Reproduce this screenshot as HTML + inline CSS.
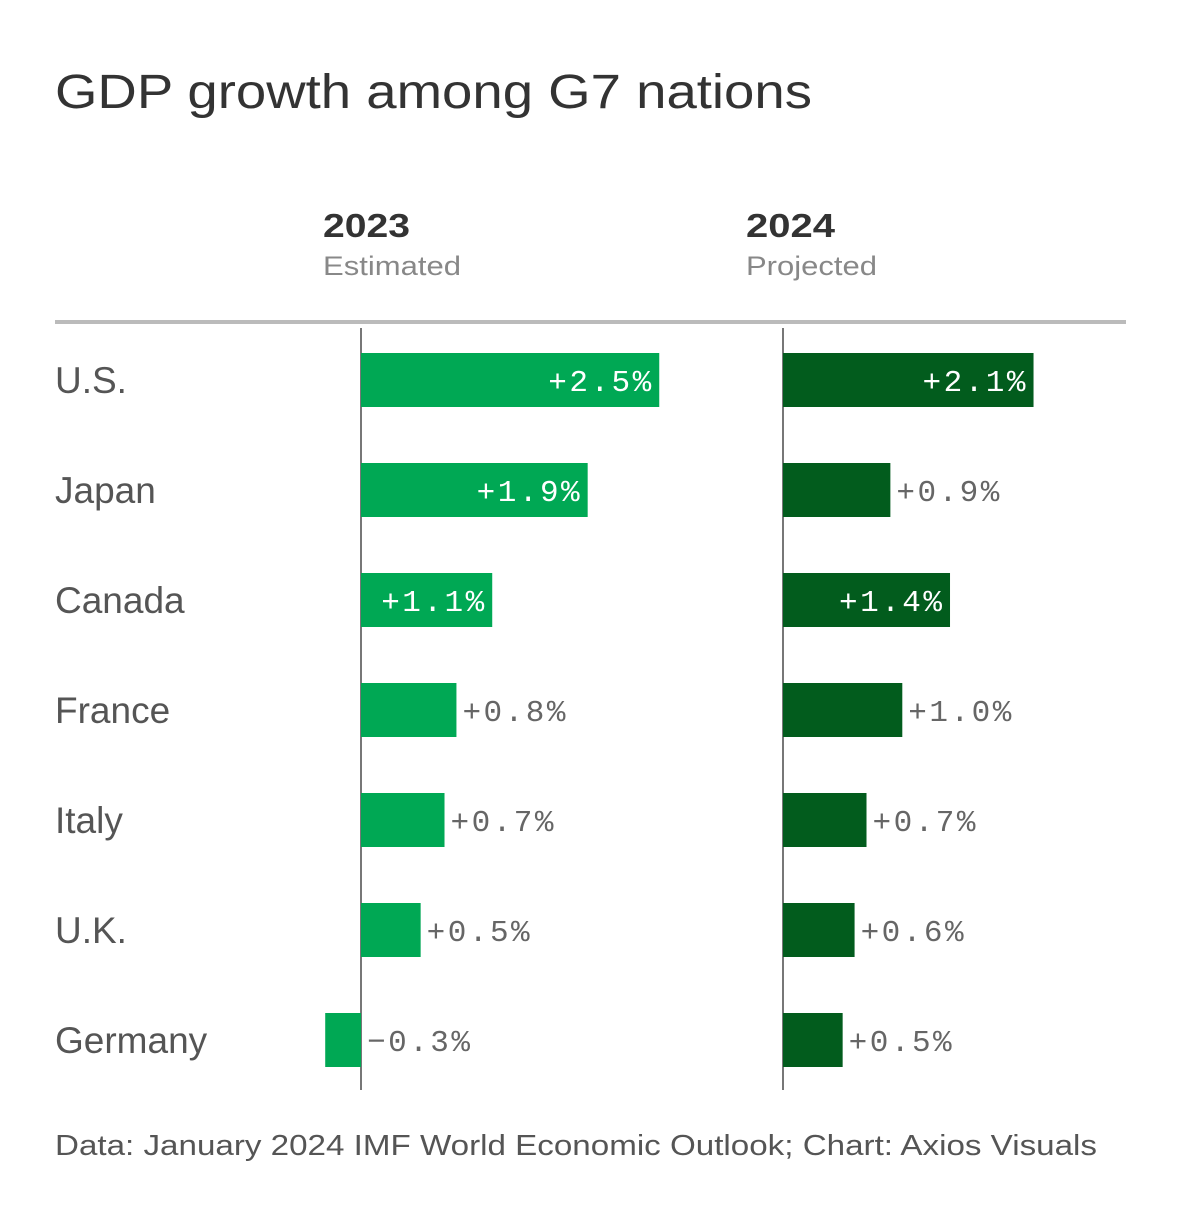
<!DOCTYPE html>
<html><head><meta charset="utf-8"><style>
body{margin:0;background:#fff;width:1180px;height:1200px;overflow:hidden;font-family:"Liberation Sans",sans-serif}
</style></head><body>
<svg id="chart" width="1180" height="1200" xmlns="http://www.w3.org/2000/svg">
<text x="55" y="108" font-size="48" fill="#333" textLength="757" lengthAdjust="spacingAndGlyphs">GDP growth among G7 nations</text>
<text x="323" y="237" font-size="33" font-weight="bold" fill="#333" textLength="87" lengthAdjust="spacingAndGlyphs">2023</text>
<text x="323" y="275" font-size="27" fill="#888" textLength="138" lengthAdjust="spacingAndGlyphs">Estimated</text>
<text x="746" y="237" font-size="33" font-weight="bold" fill="#333" textLength="89" lengthAdjust="spacingAndGlyphs">2024</text>
<text x="746" y="275" font-size="27" fill="#888" textLength="131" lengthAdjust="spacingAndGlyphs">Projected</text>
<rect x="55" y="320" width="1071" height="4" fill="#bbb"/>
<rect x="360" y="328" width="2" height="762" fill="#777"/>
<rect x="782" y="328" width="2" height="762" fill="#777"/>
<g id="bars"></g>
<text x="55" y="1155" font-size="29" fill="#555" textLength="1042" lengthAdjust="spacingAndGlyphs">Data: January 2024 IMF World Economic Outlook; Chart: Axios Visuals</text>
</svg>
<script>
const countries=["U.S.","Japan","Canada","France","Italy","U.K.","Germany"];
const values2023=[2.5,1.9,1.1,0.8,0.7,0.5,-0.3];
const values2024=[2.1,0.9,1.4,1.0,0.7,0.6,0.5];
const NS="http://www.w3.org/2000/svg";
const g=document.getElementById('bars');
const pxPerPct=119.3;
function yRow(i){return 353+i*110;}
function xScale(zero,v){return zero+v*pxPerPct;}
function fmt(v){return (v<0?"\u2212":"+")+Math.abs(v).toFixed(1)+"%";}
function mk(tag,attrs){const e=document.createElementNS(NS,tag);for(const k in attrs)e.setAttribute(k,attrs[k]);return e;}
countries.forEach((c,i)=>{
  const t=mk('text',{x:55,y:yRow(i)+40,'font-size':37,fill:'#555'});
  t.textContent=c;
  
  
  g.appendChild(t);
});
function series(vals,zero,color,name){
  vals.forEach((v,i)=>{
    const x1=xScale(zero,Math.min(0,v)),x2=xScale(zero,Math.max(0,v));
    const r=mk('rect',{x:x1,y:yRow(i),width:x2-x1,height:54,fill:color});
    
    
    g.appendChild(r);
    const w=x2-x1;
    const inside=v>0&&w>125;
    const lbl=mk('text',{y:yRow(i)+38,'font-size':31,'letter-spacing':2.5,'font-family':'Liberation Mono, monospace'});
    if(inside){lbl.setAttribute('x',x2-8+2.5);lbl.setAttribute('text-anchor','end');lbl.setAttribute('fill','#fff');}
    else{lbl.setAttribute('x',(v<0?zero:x2)+6);lbl.setAttribute('fill','#666');}
    lbl.textContent=fmt(v);
    
    
    g.appendChild(lbl);
  });
}
series(values2023,361,'#00a854','bar-2023');
series(values2024,783,'#025c1d','bar-2024');
</script>
</body></html>
